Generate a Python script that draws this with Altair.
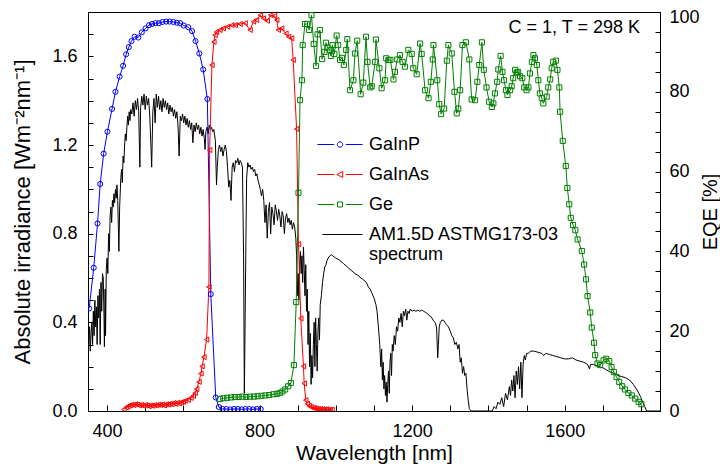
import altair as alt
import pandas as pd

# ---------------- data ----------------
SERIES = ["GaInP", "GaInAs", "Ge", "AM1.5D ASTMG173-03 spectrum"]
COLORS = ["#0000ff", "#ff0000", "#008000", "#000000"]
MARKERS = ["circle", "triangle-left", "square"]

GAINP = [(353, 25.7), (365, 35.9), (375, 47.0), (382, 56.9), (391, 64.5), (401, 70.0), (413, 75.7),
         (422, 80.0), (433, 83.8), (442, 86.5), (450, 89.4), (457, 91.2), (464, 92.7), (472, 93.8),
         (482, 93.6), (491, 94.9), (501, 95.9), (510, 96.7), (518, 97.0), (527, 97.2), (536, 97.2),
         (545, 97.5), (555, 97.6), (564, 97.6), (574, 97.5), (583, 97.3), (592, 97.2), (601, 96.6),
         (613, 96.2), (623, 95.2), (632, 92.7), (642, 89.6), (652, 85.6), (663, 78.2), (672, 29.3),
         (685, 3.4), (693, 1.0), (703, 0.5), (713, 0.5), (723, 0.4), (733, 0.5), (743, 0.5),
         (753, 0.4), (763, 0.5), (773, 0.5), (783, 0.4), (793, 0.5), (803, 0.5)]

GAINAS = [(444, 0.4), (450, 0.9), (455, 1.2), (460, 1.4), (465, 1.6), (470, 1.5), (475, 1.7), (480, 1.6),
          (485, 1.4), (490, 1.5), (495, 1.3), (500, 1.5), (505, 1.4), (510, 1.2), (515, 1.4), (520, 1.3),
          (525, 1.5), (530, 1.4), (535, 1.6), (540, 1.5), (545, 1.6), (550, 1.4), (555, 1.7), (560, 1.6),
          (565, 1.8), (570, 1.7), (575, 2.0), (580, 1.8), (585, 2.1), (590, 1.9), (595, 2.2), (600, 2.3),
          (606, 2.6), (613, 2.8), (620, 3.3), (626, 3.8), (631, 4.5), (635, 5.5), (641, 7.3), (646, 9.4),
          (649, 11.2), (654, 13.5), (661, 17.9), (667, 31.1), (669, 65.4), (675, 86.7), (680, 92.5),
          (683, 94.2), (687, 95.0), (696, 95.5), (705, 95.9), (716, 96.3), (727, 96.7), (736, 96.7),
          (749, 97.0), (762, 97.2), (775, 95.5), (784, 97.6), (792, 98.0), (802, 99.2), (810, 98.4),
          (820, 97.8), (829, 99.2), (839, 99.0), (845, 98.0), (849, 95.5), (858, 95.9), (869, 94.6),
          (876, 93.8), (884, 93.4), (888, 88.0), (897, 70.7), (902, 41.8), (908, 23.2), (915, 11.2),
          (917, 6.9), (921, 2.7), (925, 1.8), (930, 1.3), (935, 1.0), (940, 0.8), (945, 0.7), (950, 0.6),
          (955, 0.5), (960, 0.5), (965, 0.4), (970, 0.4), (975, 0.4), (980, 0.3), (985, 0.3), (990, 0.3)]

GE = [(696, 3.0), (705, 3.2), (715, 3.3), (725, 3.4), (735, 3.5), (745, 3.5), (755, 3.6), (765, 3.5),
      (775, 3.6), (785, 3.6), (795, 3.7), (805, 3.8), (815, 3.9), (825, 4.0), (836, 4.2), (845, 4.3),
      (853, 4.5), (860, 4.9), (867, 5.4), (875, 6.2), (882, 7.0), (890, 11.5), (896, 27.3), (902, 54.7),
      (906, 77.9), (911, 82.9), (913, 91.7), (919, 97.0), (925, 97.0), (930, 95.5), (936, 99.2),
      (942, 92.0), (948, 86.5), (952, 94.4), (958, 95.5), (964, 88.2), (970, 90.0), (974, 92.3),
      (978, 91.1), (984, 90.5), (987, 89.0), (991, 91.7), (996, 89.5), (1002, 94.1), (1006, 91.7),
      (1011, 88.0), (1016, 88.5), (1021, 86.7), (1027, 90.5), (1030, 93.2), (1037, 80.4), (1046, 82.9),
      (1050, 89.6), (1056, 92.8), (1065, 79.4), (1072, 82.3), (1079, 93.8), (1083, 87.5), (1090, 81.1),
      (1094, 81.4), (1103, 87.5), (1105, 93.1), (1114, 85.9), (1120, 80.9), (1129, 82.9), (1132, 88.4),
      (1138, 88.0), (1143, 88.0), (1151, 83.1), (1155, 85.0), (1161, 88.1), (1168, 89.2), (1175, 87.5),
      (1181, 86.3), (1190, 90.5), (1199, 89.5), (1203, 85.9), (1212, 84.4), (1221, 92.1), (1225, 89.5),
      (1234, 80.4), (1243, 78.4), (1249, 82.5), (1254, 88.1), (1256, 91.7), (1266, 82.9), (1271, 76.9),
      (1276, 74.4), (1284, 75.8), (1291, 87.8), (1295, 91.7), (1304, 89.6), (1311, 80.0), (1317, 74.6),
      (1321, 75.8), (1326, 80.4), (1332, 91.7), (1341, 92.4), (1350, 88.1), (1356, 78.1), (1365, 77.9),
      (1371, 82.5), (1376, 86.7), (1383, 92.4), (1388, 85.5), (1395, 81.1), (1402, 77.5), (1409, 76.2),
      (1413, 77.1), (1417, 79.6), (1423, 82.5), (1426, 85.6), (1432, 89.0), (1437, 85.0), (1441, 82.9),
      (1446, 80.4), (1450, 79.2), (1457, 80.4), (1461, 81.4), (1465, 83.4), (1470, 85.5), (1474, 84.8),
      (1478, 85.0), (1483, 83.9), (1489, 83.4), (1494, 81.1), (1500, 80.4), (1505, 81.1), (1509, 84.6),
      (1514, 87.5), (1518, 89.2), (1522, 88.4), (1527, 86.7), (1531, 82.9), (1535, 79.6), (1540, 78.4),
      (1544, 77.1), (1553, 78.8), (1557, 81.1), (1562, 83.1), (1566, 85.9), (1570, 87.5), (1577, 87.8),
      (1581, 85.5), (1586, 81.1), (1588, 75.0), (1595, 67.7), (1603, 61.4), (1607, 55.9), (1612, 51.8),
      (1616, 48.4), (1622, 46.6), (1628, 45.3), (1634, 43.0), (1645, 40.1), (1651, 36.7), (1656, 33.0),
      (1660, 28.8), (1667, 24.7), (1671, 20.9), (1677, 17.1), (1680, 14.0), (1686, 11.9), (1693, 11.5),
      (1702, 12.7), (1709, 13.1), (1717, 12.5), (1723, 11.0), (1729, 9.8), (1736, 8.5), (1743, 7.3),
      (1751, 6.2), (1758, 5.4), (1767, 4.5), (1776, 3.9), (1785, 3.1), (1794, 2.3), (1801, 1.7)]

AM15D = [(350, 0.36), (352, 0.30), (354, 0.38), (356, 0.27), (358, 0.35), (360, 0.40), (362, 0.30),
         (364, 0.45), (366, 0.34), (368, 0.50), (370, 0.38), (372, 0.47), (374, 0.30), (376, 0.52),
         (378, 0.42), (380, 0.55), (382, 0.30), (384, 0.58), (386, 0.45), (388, 0.62), (390, 0.60),
         (392, 0.42), (393, 0.29), (395, 0.55), (396, 0.34), (398, 0.64), (400, 0.69), (402, 0.62),
         (404, 0.80), (406, 0.72), (408, 0.88), (410, 0.92), (412, 0.85), (414, 0.95), (416, 0.92),
         (418, 0.98), (420, 0.94), (422, 1.00), (424, 0.96), (426, 1.02), (428, 0.95), (430, 0.80),
         (431, 0.72), (433, 0.92), (436, 1.05), (438, 1.09), (440, 1.03), (442, 1.15), (444, 1.12),
         (446, 1.20), (448, 1.25), (450, 1.22), (452, 1.28), (454, 1.33), (456, 1.29), (458, 1.35),
         (460, 1.31), (462, 1.36), (465, 1.34), (468, 1.39), (471, 1.33), (474, 1.40), (477, 1.36),
         (480, 1.41), (483, 1.35), (486, 1.10), (488, 1.37), (491, 1.42), (494, 1.38), (497, 1.43),
         (500, 1.36), (503, 1.42), (506, 1.38), (509, 1.41), (512, 1.33), (515, 1.20), (517, 1.10),
         (520, 1.35), (523, 1.41), (526, 1.30), (529, 1.43), (532, 1.37), (535, 1.42), (538, 1.36),
         (541, 1.40), (544, 1.35), (547, 1.41), (550, 1.37), (553, 1.40), (556, 1.36), (559, 1.39),
         (562, 1.34), (565, 1.38), (568, 1.35), (571, 1.37), (574, 1.33), (577, 1.36), (580, 1.32),
         (583, 1.35), (586, 1.29), (589, 1.15), (592, 1.33), (595, 1.31), (598, 1.34), (601, 1.30),
         (604, 1.33), (607, 1.29), (610, 1.32), (613, 1.28), (616, 1.31), (619, 1.27), (622, 1.30),
         (625, 1.21), (628, 1.29), (631, 1.26), (634, 1.30), (637, 1.27), (640, 1.29), (643, 1.25),
         (646, 1.28), (649, 1.24), (652, 1.27), (655, 1.23), (657, 1.18), (659, 1.26), (662, 1.28),
         (665, 1.25), (668, 1.29), (671, 1.27), (674, 1.28), (677, 1.26), (680, 1.27), (684, 1.22),
         (687, 1.02), (689, 1.10), (692, 1.18), (695, 1.20), (698, 1.17), (701, 1.19), (704, 1.15),
         (707, 1.18), (710, 1.20), (713, 1.17), (716, 1.10), (719, 1.01), (722, 1.04), (725, 0.95),
         (728, 1.10), (731, 1.12), (734, 1.08), (737, 1.13), (740, 1.12), (743, 1.14), (746, 1.11),
         (749, 1.13), (752, 1.12), (755, 1.10), (758, 0.70), (760, 0.08), (762, 0.40), (764, 0.75),
         (766, 1.05), (769, 1.12), (772, 1.10), (775, 1.11), (778, 1.09), (781, 1.10), (784, 1.08),
         (787, 1.09), (790, 1.06), (793, 1.07), (796, 1.04), (799, 1.02), (802, 1.00), (805, 0.97),
         (808, 1.00), (811, 0.95), (814, 0.85), (817, 0.93), (820, 0.78), (823, 0.90), (826, 0.94),
         (829, 0.80), (832, 0.92), (835, 0.89), (838, 0.84), (841, 0.93), (844, 0.90), (847, 0.86),
         (850, 0.91), (853, 0.88), (856, 0.83), (859, 0.90), (862, 0.88), (865, 0.80), (868, 0.87),
         (871, 0.89), (874, 0.85), (877, 0.87), (880, 0.84), (883, 0.86), (886, 0.82), (889, 0.85),
         (892, 0.83), (895, 0.78), (897, 0.70), (899, 0.52), (901, 0.62), (903, 0.50), (905, 0.66),
         (907, 0.72), (909, 0.62), (911, 0.70), (913, 0.58), (915, 0.74), (917, 0.64), (919, 0.52),
         (921, 0.66), (923, 0.45), (925, 0.55), (927, 0.30), (929, 0.45), (931, 0.20), (933, 0.35),
         (935, 0.12), (937, 0.25), (939, 0.15), (941, 0.30), (943, 0.40), (945, 0.20), (947, 0.42),
         (949, 0.30), (951, 0.18), (953, 0.36), (955, 0.42), (957, 0.32), (959, 0.48), (962, 0.52),
         (965, 0.58), (968, 0.62), (971, 0.65), (974, 0.66), (977, 0.68), (980, 0.69), (984, 0.70),
         (988, 0.705), (992, 0.70), (996, 0.695), (1000, 0.69), (1010, 0.68), (1020, 0.665),
         (1030, 0.65), (1040, 0.635), (1050, 0.62), (1060, 0.61), (1065, 0.60), (1070, 0.595),
         (1080, 0.58), (1085, 0.56), (1090, 0.55), (1095, 0.53), (1100, 0.51), (1105, 0.48),
         (1108, 0.45), (1112, 0.37), (1115, 0.30), (1118, 0.20), (1120, 0.28), (1122, 0.14),
         (1124, 0.22), (1126, 0.10), (1128, 0.16), (1130, 0.07), (1132, 0.13), (1134, 0.04),
         (1136, 0.12), (1138, 0.18), (1140, 0.08), (1142, 0.22), (1144, 0.26), (1146, 0.16),
         (1148, 0.30), (1150, 0.27), (1153, 0.34), (1156, 0.30), (1159, 0.38), (1162, 0.36),
         (1165, 0.42), (1168, 0.40), (1171, 0.44), (1174, 0.38), (1177, 0.45), (1180, 0.43),
         (1183, 0.46), (1186, 0.41), (1189, 0.45), (1192, 0.44), (1195, 0.46), (1200, 0.45),
         (1205, 0.455), (1210, 0.45), (1215, 0.455), (1220, 0.45), (1225, 0.455), (1230, 0.45),
         (1235, 0.445), (1240, 0.44), (1245, 0.43), (1250, 0.425), (1255, 0.41), (1260, 0.40),
         (1264, 0.38), (1267, 0.24), (1269, 0.30), (1271, 0.38), (1274, 0.40), (1278, 0.41),
         (1282, 0.41), (1286, 0.40), (1290, 0.39), (1295, 0.38), (1300, 0.36), (1304, 0.34),
         (1308, 0.33), (1312, 0.30), (1316, 0.31), (1320, 0.28), (1323, 0.30), (1326, 0.22),
         (1329, 0.24), (1332, 0.17), (1335, 0.20), (1338, 0.16), (1341, 0.17), (1344, 0.10),
         (1347, 0.05), (1350, 0.01), (1355, 0.0), (1410, 0.0), (1415, 0.02), (1420, 0.01),
         (1425, 0.04), (1430, 0.03), (1435, 0.06), (1440, 0.02), (1445, 0.08), (1450, 0.05),
         (1455, 0.11), (1458, 0.07), (1461, 0.14), (1464, 0.09), (1467, 0.16), (1470, 0.06),
         (1473, 0.18), (1476, 0.12), (1479, 0.20), (1482, 0.10), (1485, 0.22), (1488, 0.06),
         (1491, 0.21), (1494, 0.25), (1497, 0.23), (1500, 0.26), (1505, 0.26), (1510, 0.27),
         (1520, 0.27), (1530, 0.265), (1540, 0.26), (1545, 0.25), (1550, 0.26), (1560, 0.255),
         (1570, 0.25), (1580, 0.245), (1590, 0.24), (1600, 0.235), (1610, 0.235), (1620, 0.24),
         (1630, 0.23), (1640, 0.225), (1650, 0.22), (1660, 0.21), (1665, 0.19), (1668, 0.21),
         (1675, 0.21), (1690, 0.20), (1700, 0.195), (1710, 0.185), (1720, 0.175), (1730, 0.17),
         (1740, 0.16), (1750, 0.155), (1760, 0.15), (1770, 0.14), (1780, 0.12), (1790, 0.095),
         (1800, 0.06), (1810, 0.02), (1815, 0.0), (1850, 0.0)]

X_TICKS = [400, 500, 600, 700, 800, 900, 1000, 1100, 1200, 1300, 1400, 1500, 1600, 1700, 1800]
LEFT_TICKS = [0.0, 0.1, 0.2, 0.3, 0.4, 0.5, 0.6, 0.7, 0.8, 0.9, 1.0, 1.1, 1.2, 1.3, 1.4, 1.5, 1.6, 1.7, 1.8]
RIGHT_TICKS = [0, 5, 10, 15, 20, 25, 30, 35, 40, 45, 50, 55, 60, 65, 70, 75, 80, 85, 90, 95, 100]
NOTE = "C = 1, T = 298 K"

# ---------------- tables ----------------
eqe_rows = []
for name, pts in zip(SERIES[:3], [GAINP, GAINAS, GE]):
    for wl, v in pts:
        eqe_rows.append({"wl": wl, "eqe": v, "series": name})
eqe_df = pd.DataFrame(eqe_rows)
spec_df = pd.DataFrame({"wl": [p[0] for p in AM15D], "irr": [p[1] for p in AM15D], "series": SERIES[3]})
note_df = pd.DataFrame({"t": [NOTE]})
legend_df = pd.DataFrame({"series": SERIES})

FONT = "Liberation Sans"

xscale = alt.Scale(domain=[350, 1850], nice=False, zero=False)
color_scale = alt.Scale(domain=SERIES, range=COLORS)
eqe_y = alt.Scale(domain=[0, 100], nice=False)

x_axis = alt.Axis(values=X_TICKS, title="Wavelength [nm]",
                  labelExpr="datum.value % 400 == 0 ? format(datum.value, 'd') : ''",
                  tickSize={"expr": "-6"}, labelPadding=17, titlePadding=2, titleFontSize=21,
                  labelFlush=False, labelOverlap=False, grid=False)
left_axis = alt.Axis(orient="left", values=LEFT_TICKS, title="Absolute irradiance [Wm⁻²nm⁻¹]",
                     labelExpr="round(datum.value * 10) % 4 == 0 ? format(datum.value, '.1f') : ''",
                     tickSize={"expr": "-5"}, labelPadding=16, titlePadding=17,
                     labelFlush=False, labelOverlap=False, grid=False)
right_axis = alt.Axis(orient="right", values=RIGHT_TICKS, title="EQE [%]",
                      labelExpr="datum.value % 20 == 0 ? format(datum.value, 'd') : ''",
                      labelOffset={"condition": {"test": "datum.value == 100", "value": 5}, "value": 0},
                      tickSize={"expr": "-5"}, labelPadding=14, titlePadding=1,
                      titleAngle=270, titleBaseline="top", titleFontSize=20,
                      labelFlush=False, labelOverlap=False, grid=False)

# legend glyphs: line - marker - line (unit coordinates, scaled by the legend symbol size)
LEGEND_GLYPHS = [
    "M-1,0H-0.26M0.26,0H1M0.12,0A0.12,0.12,0,1,1,-0.12,0A0.12,0.12,0,1,1,0.12,0",
    "M-1,0H-0.26M0.26,0H1M-0.14,0L0.12,-0.13L0.12,0.13Z",
    "M-1,0H-0.26M0.26,0H1M-0.11,-0.11H0.11V0.11H-0.11Z",
    "M-0.78,0H1",
]

legend = alt.Legend(
    title=None, orient="none", legendX=229, legendY=118, padding=0,
    symbolSize=2025, symbolStrokeWidth=1, symbolOpacity=1, symbolFillColor="transparent",
    clipHeight=29, rowPadding=1,
    labelFont=FONT, labelFontSize=18, labelColor="black", labelOffset=6, labelLimit=400,
    labelExpr="datum.label == 'AM1.5D ASTMG173-03 spectrum' ? ['AM1.5D ASTMG173-03', 'spectrum'] : datum.label",
)

X = alt.X("wl:Q", scale=xscale, axis=x_axis)
C = alt.Color("series:N", scale=color_scale, legend=legend)

spec_line = alt.Chart(spec_df).mark_line(strokeWidth=1, clip=True).encode(
    x=X, y=alt.Y("irr:Q", scale=alt.Scale(domain=[0, 1.8], nice=False), axis=left_axis), color=C)

Y_EQE = alt.Y("eqe:Q", scale=eqe_y, axis=right_axis)
eqe_layers = [alt.Chart(eqe_df).mark_line(strokeWidth=1, clip=True).encode(x=X, y=Y_EQE, color=C)]
for name, marker in zip(SERIES[:3], MARKERS):
    eqe_layers.append(
        alt.Chart(eqe_df).transform_filter(alt.datum.series == name).mark_point(
            shape=marker, filled=False, strokeWidth=1, size=26, opacity=1, clip=True
        ).encode(x=X, y=Y_EQE, color=C)
    )

legend_layer = alt.Chart(legend_df).mark_point(filled=False, opacity=0, size=1).encode(
    color=C,
    shape=alt.Shape("series:N", scale=alt.Scale(domain=SERIES, range=LEGEND_GLYPHS), legend=legend),
)

note = alt.Chart(note_df).mark_text(align="right", baseline="middle", font=FONT, fontSize=18,
                                    color="black").encode(
    x=alt.value(552), y=alt.value(15.5), text="t:N")

chart = alt.layer(spec_line, alt.layer(*eqe_layers), note, legend_layer).resolve_scale(
    y="independent"
).properties(
    width=572, height=399,
    padding={"left": 80, "top": 4, "right": 60, "bottom": 55},
    autosize=alt.AutoSizeParams(type="none"),
).configure_view(stroke="black", strokeWidth=1).configure_axis(
    labelFont=FONT, titleFont=FONT, labelFontSize=18, titleFontSize=22,
    titleFontWeight="normal", labelColor="black", titleColor="black",
    domainColor="black", tickColor="black", domainWidth=1, tickWidth=1,
)

chart.save("out.html", embed_options={"renderer": "svg", "actions": False})
